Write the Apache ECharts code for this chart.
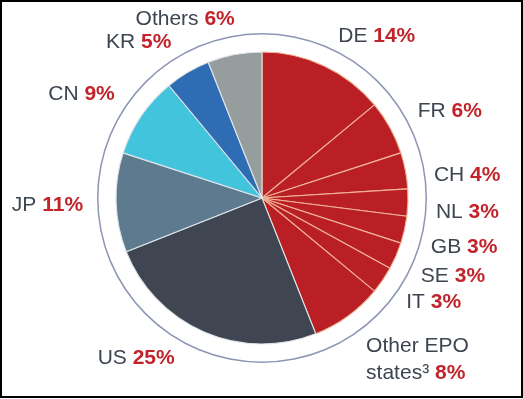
<!DOCTYPE html>
<html>
<head>
<meta charset="utf-8">
<script src="https://cdn.jsdelivr.net/npm/echarts@6/dist/echarts.min.js"></script>
<style>
  html, body { margin: 0; padding: 0; background: #fff; }
  #chart { position: absolute; left: 0; top: 0; width: 523px; height: 399px; }
  #frame { position: absolute; left: 0; top: 0; width: 523px; height: 398px; box-sizing: border-box; border: 2px solid #000; pointer-events: none; }
</style>
</head>
<body>
<div id="chart"></div>
<div id="frame"></div>
<script>
// Data
const categories = ['DE', 'FR', 'CH', 'NL', 'GB', 'SE', 'IT', 'Other EPO\nstates\u00b3', 'US', 'JP', 'CN', 'KR', 'Others'];
const shares = [14, 6, 4, 3, 3, 3, 3, 8, 25, 11, 9, 5, 6];

// Styles
const sliceColors = ['#ba1f26', '#ba1f26', '#ba1f26', '#ba1f26', '#ba1f26', '#ba1f26', '#ba1f26', '#ba1f26',
                     '#3f4651', '#5e7a8f', '#43c4dd', '#2e6db4', '#969d9d'];
const isEpo = [true, true, true, true, true, true, true, true, false, false, false, false, false];
// small label nudges (text placement only) relative to the library's outside-label position
const labelNudge = {
  'DE': [-2, -6], 'FR': [0, -4], 'CH': [-2, 9], 'NL': [-3, 9], 'GB': [-4, 12], 'SE': [-4, 10], 'IT': [-3, 8],
  'Other EPO\nstates\u00b3': [-2, 23], 'US': [-14, 2], 'JP': [-2, 2], 'CN': [0, -7], 'KR': [2, -8], 'Others': [10, -10]
};

const chart = echarts.init(document.getElementById('chart'), null, { renderer: 'canvas' });

const pieData = categories.map((name, i) => ({
  name: name,
  value: shares[i],
  itemStyle: {
    color: sliceColors[i],
    borderColor: isEpo[i] ? '#f0b496' : '#dfe4ea',
    borderWidth: 1.1
  }
}));

function fmt(p) {
  const lines = p.name.split('\n');
  const last = lines.pop();
  let s = lines.map(l => '{n|' + l + '}').join('\n');
  if (lines.length) s += '\n';
  return s + '{n|' + last + ' }{v|' + p.value + '%}';
}

chart.setOption({
  animation: false,
  backgroundColor: '#ffffff',
  series: [
    {
      type: 'pie',
      silent: true,
      center: [262, 198],
      radius: [163.5, 165],
      label: { show: false },
      labelLine: { show: false },
      itemStyle: { color: '#8d96b4' },
      data: [{ value: 1, name: 'ring' }]
    },
    {
      type: 'pie',
      center: [262, 198],
      radius: [0, 146],
      startAngle: 90,
      clockwise: true,
      avoidLabelOverlap: false,
      label: {
        show: true,
        position: 'outside',
        distanceToLabelLine: 5,
        formatter: fmt,
        rich: {
          n: { fontFamily: 'Liberation Sans', fontSize: 21, color: '#3d4551', lineHeight: 27 },
          v: { fontFamily: 'Liberation Sans', fontSize: 21, fontWeight: 'bold', color: '#c1242b', lineHeight: 27 }
        }
      },
      labelLine: { show: false, length: 26, length2: 0 },
      labelLayout: function (params) {
        const nm = categories[params.dataIndex];
        const d = labelNudge[nm] || [0, 0];
        return { dx: d[0], dy: d[1] };
      },
      data: pieData
    }
  ]
});
</script>
</body>
</html>
